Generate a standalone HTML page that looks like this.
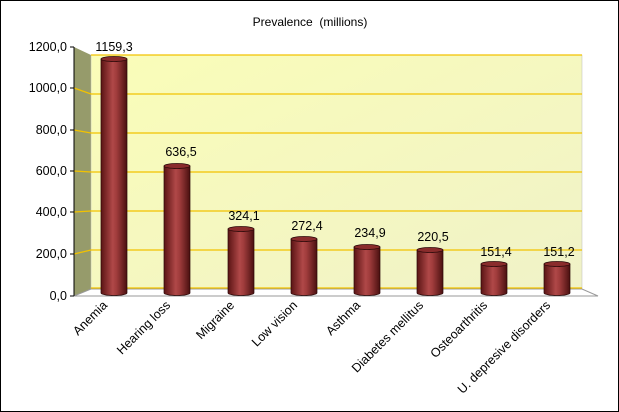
<!DOCTYPE html>
<html><head><style>
body{margin:0;background:#fff}
svg{display:block;font-family:"Liberation Sans",sans-serif}
</style></head><body>
<svg width="619" height="412" viewBox="0 0 619 412">
<defs>
<linearGradient id="bar" x1="0" x2="1" y1="0" y2="0">
<stop offset="0" stop-color="#5a1414"/><stop offset="0.45" stop-color="#b04848"/><stop offset="0.6" stop-color="#a03c3c"/><stop offset="1" stop-color="#4a1010"/>
</linearGradient>
<linearGradient id="wall" x1="0" x2="1" y1="0" y2="1">
<stop offset="0" stop-color="#fafdb8"/><stop offset="1" stop-color="#f0f2c8"/>
</linearGradient>
</defs>
<rect x="0.5" y="0.5" width="618" height="411" fill="#fff" stroke="#000"/>
<text x="310" y="26" font-size="12" text-anchor="middle" xml:space="preserve">Prevalence  (millions)</text>
<polygon points="74,47 91,55 91,289 74,296" fill="#969b6b"/>
<rect x="91" y="55" width="491" height="234" fill="url(#wall)" stroke="#bbb" stroke-width="0.5"/>
<polygon points="74,296 91,289 582,289 598,296" fill="#fff" stroke="#999"/>
<g stroke="#f2c200" stroke-width="1.3" fill="none">
<polyline points="74,88 91,94 582,94"/>
<polyline points="74,130 91,133 582,133"/>
<polyline points="74,171 91,172 582,172"/>
<polyline points="74,212 91,211 582,211"/>
<polyline points="74,254 91,250 582,250"/>
<line x1="91" y1="55" x2="582" y2="55"/>
<line x1="91" y1="288" x2="582" y2="288"/>
</g>
<g stroke="#000" stroke-width="1">
<line x1="74" y1="47" x2="74" y2="296"/>
<line x1="70" y1="47" x2="74" y2="47"/><line x1="70" y1="88" x2="74" y2="88"/>
<line x1="70" y1="130" x2="74" y2="130"/><line x1="70" y1="171" x2="74" y2="171"/>
<line x1="70" y1="212" x2="74" y2="212"/><line x1="70" y1="254" x2="74" y2="254"/>
<line x1="70" y1="296" x2="74" y2="296"/>
</g>
<g font-size="12.5" text-anchor="end">
<text x="67" y="51">1200,0</text><text x="67" y="92">1000,0</text>
<text x="67" y="134">800,0</text><text x="67" y="175">600,0</text>
<text x="67" y="216">400,0</text><text x="67" y="258">200,0</text>
<text x="67" y="300">0,0</text>
</g>
<g stroke="#2a0808" stroke-width="0.7">
<path d="M101,59 V293 A13,2.5 0 0 0 127,293 V59 Z" fill="url(#bar)"/><ellipse cx="114" cy="59" rx="13" ry="2.5" fill="#8a2c2c"/>
<path d="M164,166 V293 A13,2.5 0 0 0 190,293 V166 Z" fill="url(#bar)"/><ellipse cx="177" cy="166" rx="13" ry="2.5" fill="#8a2c2c"/>
<path d="M228,229 V293 A13,2.5 0 0 0 254,293 V229 Z" fill="url(#bar)"/><ellipse cx="241" cy="229" rx="13" ry="2.5" fill="#8a2c2c"/>
<path d="M291,239 V293 A13,2.5 0 0 0 317,293 V239 Z" fill="url(#bar)"/><ellipse cx="304" cy="239" rx="13" ry="2.5" fill="#8a2c2c"/>
<path d="M354,247 V293 A13,2.5 0 0 0 380,293 V247 Z" fill="url(#bar)"/><ellipse cx="367" cy="247" rx="13" ry="2.5" fill="#8a2c2c"/>
<path d="M417,250 V293 A13,2.5 0 0 0 443,293 V250 Z" fill="url(#bar)"/><ellipse cx="430" cy="250" rx="13" ry="2.5" fill="#8a2c2c"/>
<path d="M481,264 V293 A13,2.5 0 0 0 507,293 V264 Z" fill="url(#bar)"/><ellipse cx="494" cy="264" rx="13" ry="2.5" fill="#8a2c2c"/>
<path d="M544,264 V293 A13,2.5 0 0 0 570,293 V264 Z" fill="url(#bar)"/><ellipse cx="557" cy="264" rx="13" ry="2.5" fill="#8a2c2c"/>
</g>
<g font-size="12.5" text-anchor="middle">
<text x="114" y="51">1159,3</text><text x="181" y="156">636,5</text>
<text x="244" y="220">324,1</text><text x="307" y="230">272,4</text>
<text x="370" y="237">234,9</text><text x="433" y="241">220,5</text>
<text x="496" y="256">151,4</text><text x="559" y="256">151,2</text>
</g>
<g font-size="12.5" text-anchor="end">
<text transform="translate(108,306) rotate(-45)">Anemia</text>
<text transform="translate(171,306) rotate(-45)">Hearing loss</text>
<text transform="translate(235,306) rotate(-45)">Migraine</text>
<text transform="translate(298,306) rotate(-45)">Low vision</text>
<text transform="translate(361,306) rotate(-45)">Asthma</text>
<text transform="translate(424,306) rotate(-45)">Diabetes mellitus</text>
<text transform="translate(488,306) rotate(-45)">Osteoarthritis</text>
<text transform="translate(551,306) rotate(-45)">U. depresive disorders</text>
</g>
</svg>
</body></html>
